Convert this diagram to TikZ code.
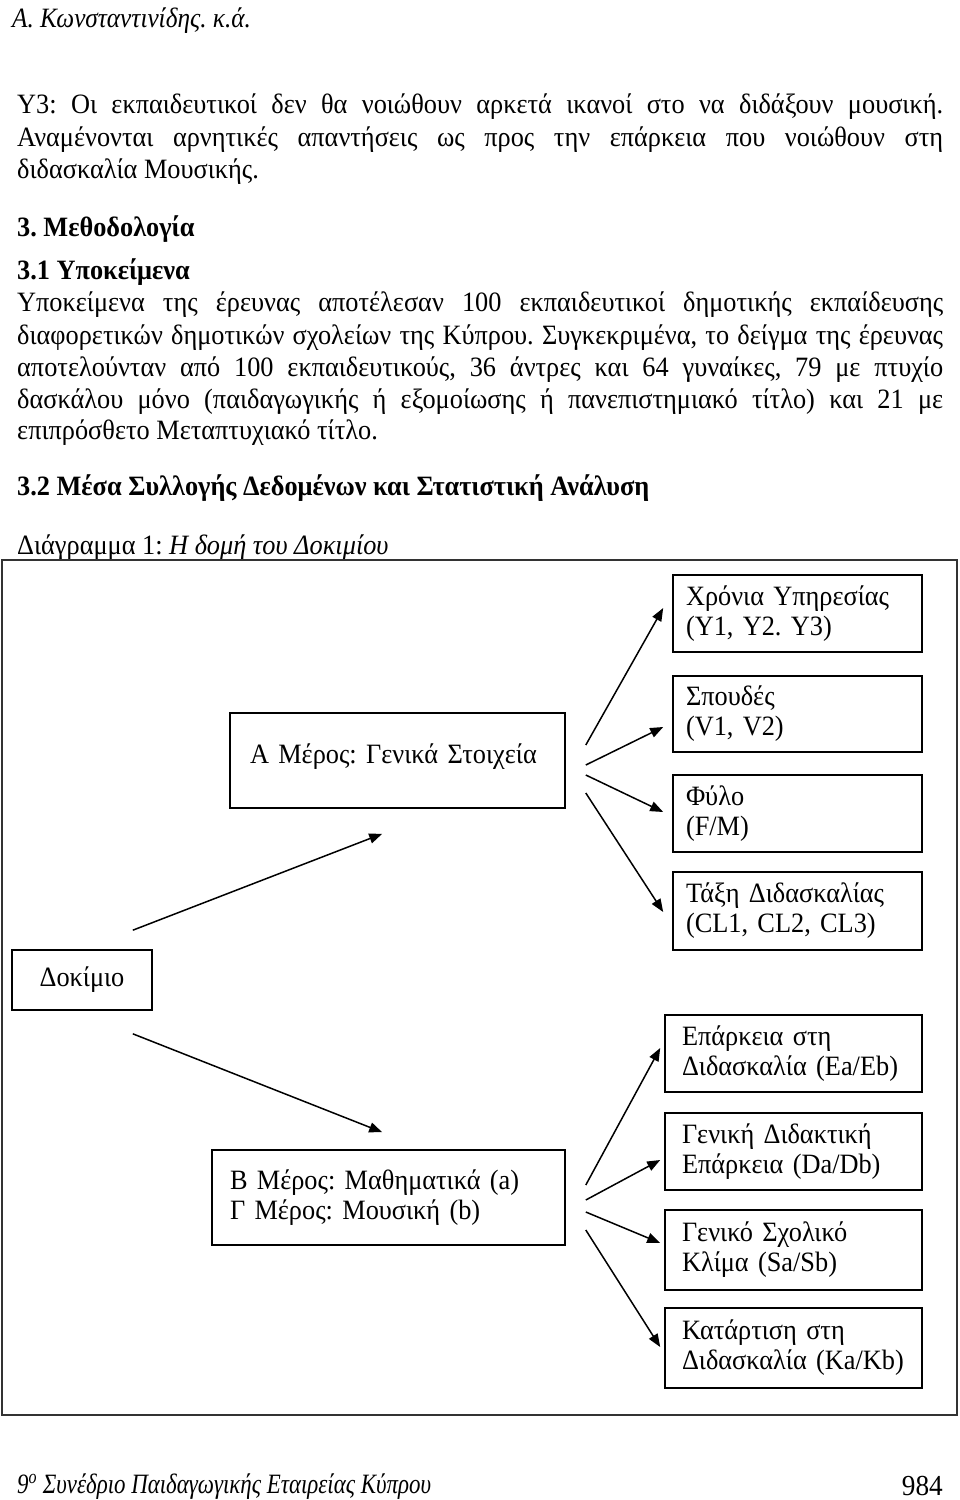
\documentclass[tikz,border=0pt]{standalone}
\usepackage{fontspec}
\setmainfont{Liberation Serif}[FakeStretch=0.94]
\usetikzlibrary{arrows.meta,calc}
\newcommand\fsz{\fontsize{28}{30}\selectfont}
\newcommand\jline[1]{\makebox[926pt][s]{#1}}
\tikzset{
  txt/.style={anchor=base west, inner sep=0pt, font=\fsz},
  box/.style={draw=black, line width=1.6pt, inner ysep=0pt, align=left, font=\fsz},
  rbox/.style={box, text width=223pt, inner xsep=13pt, minimum height=77pt},
  lbox/.style={box, text width=223pt, inner xsep=17pt, minimum height=77pt},
  arr/.style={line width=1.5pt, -{Triangle[length=13pt,width=10pt]}},
  frame/.style={draw=black!80, line width=2pt}
}
\begin{document}
\frenchspacing
\begin{tikzpicture}[x=1pt,y=-1pt]
\fill[white] (0,0) rectangle (960,1500);
\useasboundingbox (0,0) rectangle (960,1500);

% header
\node[txt] (hdr) at (12,27) {\scalebox{0.96}[1]{\itshape Α. Κωνσταντινίδης. κ.ά.}};

% body text
\node[txt] (l1) at (17,113) {\jline{Υ3: Οι εκπαιδευτικοί δεν θα νοιώθουν αρκετά ικανοί στο να διδάξουν μουσική.}};
\node[txt] (l2) at (17,146) {\jline{Αναμένονται αρνητικές απαντήσεις ως προς την επάρκεια που νοιώθουν στη}};
\node[txt] (l3) at (17,178) {διδασκαλία Μουσικής.};
\node[txt] (h3) at (17,236) {\bfseries 3. Μεθοδολογία};
\node[txt] (h31) at (17,279) {\bfseries 3.1 Υποκείμενα};
\node[txt] (p1) at (17,311) {\jline{Υποκείμενα της έρευνας αποτέλεσαν 100 εκπαιδευτικοί δημοτικής εκπαίδευσης}};
\node[txt] (p2) at (17,344) {\jline{διαφορετικών δημοτικών σχολείων της Κύπρου. Συγκεκριμένα, το δείγμα της έρευνας}};
\node[txt] (p3) at (17,376) {\jline{αποτελούνταν από 100 εκπαιδευτικούς, 36 άντρες και 64 γυναίκες, 79 με πτυχίο}};
\node[txt] (p4) at (17,408) {\jline{δασκάλου μόνο (παιδαγωγικής ή εξομοίωσης ή πανεπιστημιακό τίτλο) και 21 με}};
\node[txt] (p5) at (17,439) {επιπρόσθετο Μεταπτυχιακό τίτλο.};
\node[txt] (h32) at (17,495) {\bfseries 3.2 Μέσα Συλλογής Δεδομένων και Στατιστική Ανάλυση};
\node[txt] (cap) at (17,554) {Διάγραμμα 1: \itshape Η δομή του Δοκιμίου};

% frame
\draw[frame] (2,560) rectangle (957,1415);

% boxes
\node[rbox, minimum height=77pt] (chr) at (797.5,613.5) {Χρόνια Υπηρεσίας\\(Υ1, Υ2. Υ3)};
\node[rbox, minimum height=76pt] (spo) at (797.5,714) {Σπουδές\\(V1, V2)};
\node[rbox, minimum height=77pt] (fyl) at (797.5,813.5) {Φύλο\\(F/M)};
\node[rbox, minimum height=78pt] (tax) at (797.5,911) {Τάξη Διδασκαλίας\\(CL1, CL2, CL3)};
\node[box, text width=295pt, inner xsep=20pt, minimum height=95pt] (A) at (397.5,760.5) {\raisebox{14pt}{Α Μέρος: Γενικά Στοιχεία}};
\node[box, align=center, minimum width=140pt, minimum height=60pt] (dok) at (82,980) {Δοκίμιο};
\node[lbox, minimum height=77pt] (epa) at (793.5,1053.5) {Επάρκεια στη\\Διδασκαλία (Ea/Eb)};
\node[lbox, minimum height=77pt] (gen) at (793.5,1151.5) {Γενική Διδακτική\\Επάρκεια (Da/Db)};
\node[box, text width=317pt, inner xsep=18pt, minimum height=95pt] (B) at (388.5,1197.5) {Β Μέρος: Μαθηματικά (a)\\Γ Μέρος: Μουσική (b)};
\node[lbox, minimum height=80pt] (sxo) at (793.5,1250) {Γενικό Σχολικό\\Κλίμα (Sa/Sb)};
\node[lbox, minimum height=80pt] (kat) at (793.5,1348) {Κατάρτιση στη\\Διδασκαλία (Ka/Kb)};

% arrows from Dokimio
\draw[arr] ($(dok.north east)+(-20,-19)$) -- ($(A.south west)+(153,25)$);
\draw[arr] ($(dok.south east)+(-20,23)$) -- ($(B.north west)+(171,-17)$);

% arrows from A
\draw[arr] ($(A.east)+(20,-15.5)$) -- ($(chr.west)+(-9,-5.5)$);
\draw[arr] ($(A.east)+(20,4.5)$) -- ($(spo.west)+(-9,13)$);
\draw[arr] ($(A.east)+(20,14.5)$) -- ($(fyl.west)+(-9,-1.5)$);
\draw[arr] ($(A.east)+(20,32.5)$) -- ($(tax.west)+(-9,1)$);

% arrows from B
\draw[arr] ($(B.east)+(20,-12.5)$) -- ($(epa.west)+(-4,-5.5)$);
\draw[arr] ($(B.east)+(20,2.5)$) -- ($(gen.west)+(-4,8.5)$);
\draw[arr] ($(B.east)+(20,14.5)$) -- ($(sxo.west)+(-4,-7)$);
\draw[arr] ($(B.east)+(20,32.5)$) -- ($(kat.west)+(-4,-1)$);

% footer
\node[txt] (ftr) at (17,1493) {\scalebox{0.87}[1]{\itshape 9\textsuperscript{ο} Συνέδριο Παιδαγωγικής Εταιρείας Κύπρου}};
\node[anchor=base east, inner sep=0pt, font=\fontsize{29}{32}\selectfont] (pg) at (943,1495) {984};
\end{tikzpicture}
\end{document}
